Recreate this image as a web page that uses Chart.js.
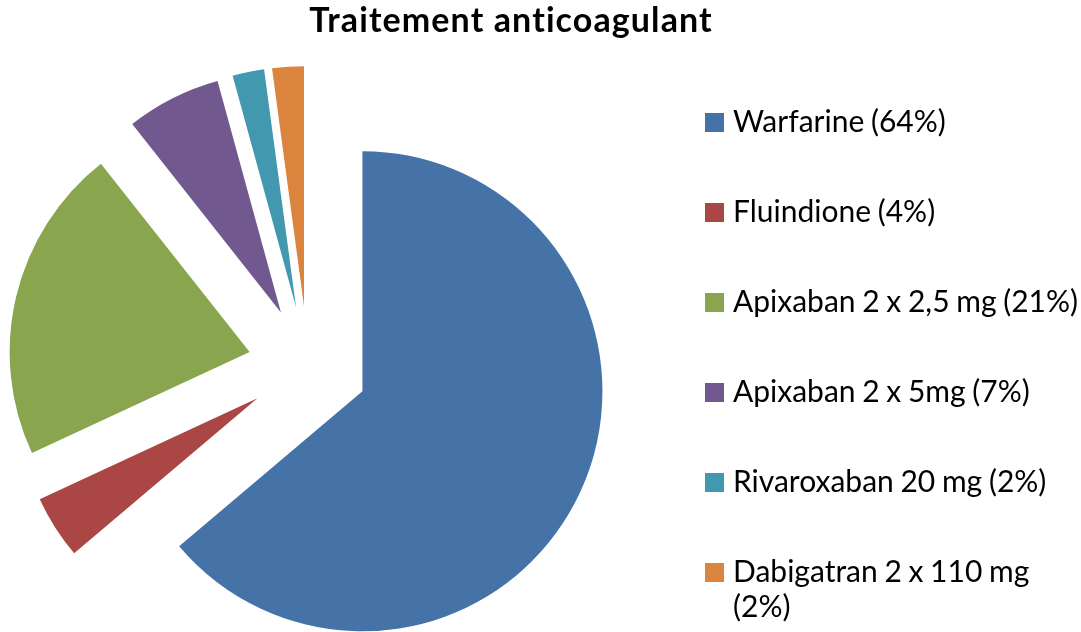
<!DOCTYPE html>
<html>
<head>
<meta charset="utf-8">
<title>Traitement anticoagulant</title>
<script src="https://cdn.jsdelivr.net/npm/chart.js@4"></script>
<style>
    html, body { margin: 0; padding: 0; background: #fff; }
    body { width: 1081px; height: 632px; position: relative; overflow: hidden; font-family: Lato, 'Open Sans', sans-serif; color: #000; }
    #chart { position: absolute; left: 0; top: 0; }
    #title { position: absolute; left: 0; top: -1px; width: 1022px; text-align: center; font-weight: bold; font-size: 34px; line-height: 40px; letter-spacing: 1.1px; }
    #legend { position: absolute; left: 705px; top: 0; width: 376px; }
    .item { position: absolute; left: 0; width: 376px; display: flex; align-items: flex-start; }
    .box { width: 19px; height: 19px; margin-top: 10px; margin-right: 9px; flex: none; }
    .txt { font-size: 30px; line-height: 35px; white-space: nowrap; word-spacing: -1px; }
</style>
</head>
<body>
<canvas id="chart" width="1081" height="632"></canvas>
<div id="title">Traitement anticoagulant</div>
<div id="legend"></div>

<script>
const categories = [
    'Warfarine (64%)',
    'Fluindione (4%)',
    'Apixaban 2 x 2,5 mg (21%)',
    'Apixaban 2 x 5mg (7%)',
    'Rivaroxaban 20 mg (2%)',
    ['Dabigatran 2 x 110 mg', '(2%)']
];
const patients = [30, 2, 10, 3, 1, 1];
const colors = ['#4572A7', '#AA4643', '#89A54E', '#71588F', '#4198AF', '#DB843D'];

const EXPLODE = 60;

// Pull every slice out along its middle angle (Excel style, no radius change)
const explodePlugin = {
    id: 'explode',
    afterDatasetUpdate(chart, args) {
        const meta = chart.getDatasetMeta(args.index);
        meta.data.forEach(arc => {
            const mid = (arc.startAngle + arc.endAngle) / 2;
            arc.x += Math.cos(mid) * EXPLODE;
            arc.y += Math.sin(mid) * EXPLODE;
        });
    }
};

// Legend
function renderLegend() {
    const container = document.getElementById('legend');
    container.innerHTML = categories.map((name, i) => {
        const text = Array.isArray(name) ? name.join('<br>') : name;
        return `
        <div class="item" style="top: ${103 + i * 90}px;">
            <span class="box" style="background-color: ${colors[i]};"></span>
            <span class="txt">${text}</span>
        </div>
    `;
    }).join('');
}

const ctx = document.getElementById('chart').getContext('2d');
new Chart(ctx, {
    type: 'pie',
    data: {
        labels: categories,
        datasets: [{
            data: patients,
            backgroundColor: colors,
            borderWidth: 0,
            clip: false
        }]
    },
    options: {
        responsive: false,
        animation: false,
        radius: 240,
        layout: {
            padding: { left: 0, right: 465, top: 100, bottom: 0 }
        },
        plugins: {
            legend: { display: false },
            title: { display: false },
            tooltip: { enabled: true }
        }
    },
    plugins: [explodePlugin]
});

renderLegend();
</script>
</body>
</html>
